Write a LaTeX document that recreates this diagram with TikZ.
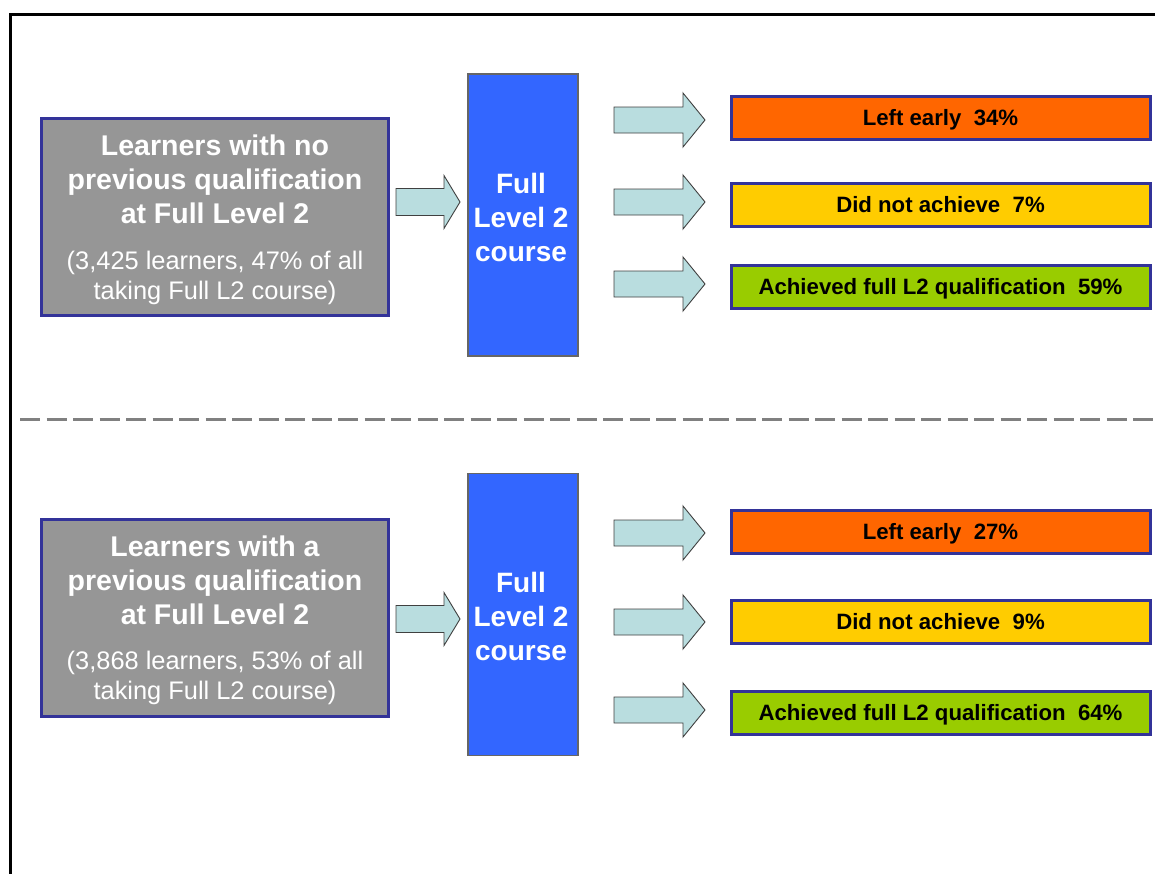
\documentclass[tikz,border=0pt]{standalone}
\usepackage{fontspec}
\setmainfont{Liberation Sans}
\definecolor{bordblue}{HTML}{333399}
\definecolor{boxgray}{HTML}{969696}
\definecolor{coursefill}{HTML}{3366FF}
\definecolor{arrowfill}{HTML}{B9DDDF}
\definecolor{leftfill}{HTML}{FF6600}
\definecolor{didfill}{HTML}{FFCC00}
\definecolor{achfill}{HTML}{99CC00}
\definecolor{dashgray}{HTML}{808080}
\tikzset{
  learnerbox/.style={draw=bordblue, line width=3pt, fill=boxgray, minimum width=347pt, minimum height=197pt, inner sep=0pt},
  titletext/.style={text=white, align=center, font=\fontsize{28.5}{34}\selectfont\bfseries, inner sep=0pt},
  subtext/.style={text=white, align=center, font=\fontsize{25.4}{30}\selectfont, inner sep=0pt},
  coursebox/.style={draw=black!60, line width=1.2pt, fill=coursefill, minimum width=110pt, minimum height=282pt, inner sep=0pt},
  coursetext/.style={text=white, align=center, font=\fontsize{28}{34}\selectfont\bfseries, inner sep=0pt},
  resultbox/.style={draw=bordblue, line width=3pt, minimum width=419pt, minimum height=43pt, inner sep=0pt, text height=15.8pt, text depth=0pt, font=\fontsize{22.2}{26}\selectfont\bfseries, text=black},
  outarrow/.pic={\draw[fill=arrowfill, draw=black!75, line width=0.9pt] (0,-13) -- (69,-13) -- (69,-27) -- (91,0) -- (69,27) -- (69,13) -- (0,13) -- cycle;},
  inarrow/.pic={\draw[fill=arrowfill, draw=black!75, line width=0.9pt] (0,-13.5) -- (48,-13.5) -- (48,-26.5) -- (64,0) -- (48,26.5) -- (48,13.5) -- (0,13.5) -- cycle;}
}
\begin{document}
\begin{tikzpicture}[x=1pt,y=-1pt]
\useasboundingbox (0,0) rectangle (1155,873);
% frame
\coordinate (frameTR) at (1155,14);
\coordinate (frameTL) at (10,14);
\coordinate (frameBL) at (10,873);
\draw[line width=3pt, line cap=rect] (frameTR) -- (frameTL) -- (frameBL);
% divider
\coordinate (divL) at (20,419);
\coordinate (divR) at (1155,419);
\draw[dashgray, line width=3pt, dash pattern=on 20pt off 6.5pt] (divL) -- (divR);

% ---------- top section ----------
\node[learnerbox] (g1) at (214.5,216.5) {};
\node[titletext] (g1t) at (215,179.5) {Learners with no\\previous qualification\\at Full Level 2};
\node[subtext] (g1s) at (215,278) {(3,425 learners, 47\% of all\\taking Full L2 course)};
\pic at (396,202) {inarrow};
\node[coursebox] (c1) at (523,215) {};
\node[coursetext] (c1t) at (521,217) {Full\\Level 2\\course};
\pic at (614,120) {outarrow};
\pic at (614,202) {outarrow};
\pic at (614,284) {outarrow};
\node[resultbox, fill=leftfill] (r11) at (940.5,117.5) {Left early\ \ 34\%};
\node[resultbox, fill=didfill] (r12) at (940.5,204.5) {Did not achieve\ \ 7\%};
\node[resultbox, fill=achfill] (r13) at (940.5,286.5) {Achieved full L2 qualification\ \ 59\%};

% ---------- bottom section ----------
\node[learnerbox] (g2) at (214.5,617.5) {};
\node[titletext] (g2t) at (215,580) {Learners with a\\previous qualification\\at Full Level 2};
\node[subtext] (g2s) at (215,678) {(3,868 learners, 53\% of all\\taking Full L2 course)};
\pic at (396,619) {inarrow};
\node[coursebox] (c2) at (523,614.5) {};
\node[coursetext] (c2t) at (521,616.5) {Full\\Level 2\\course};
\pic at (614,533) {outarrow};
\pic at (614,622) {outarrow};
\pic at (614,710) {outarrow};
\node[resultbox, fill=leftfill] (r21) at (940.5,531.5) {Left early\ \ 27\%};
\node[resultbox, fill=didfill] (r22) at (940.5,621.5) {Did not achieve\ \ 9\%};
\node[resultbox, fill=achfill] (r23) at (940.5,712.5) {Achieved full L2 qualification\ \ 64\%};
\end{tikzpicture}
\end{document}
